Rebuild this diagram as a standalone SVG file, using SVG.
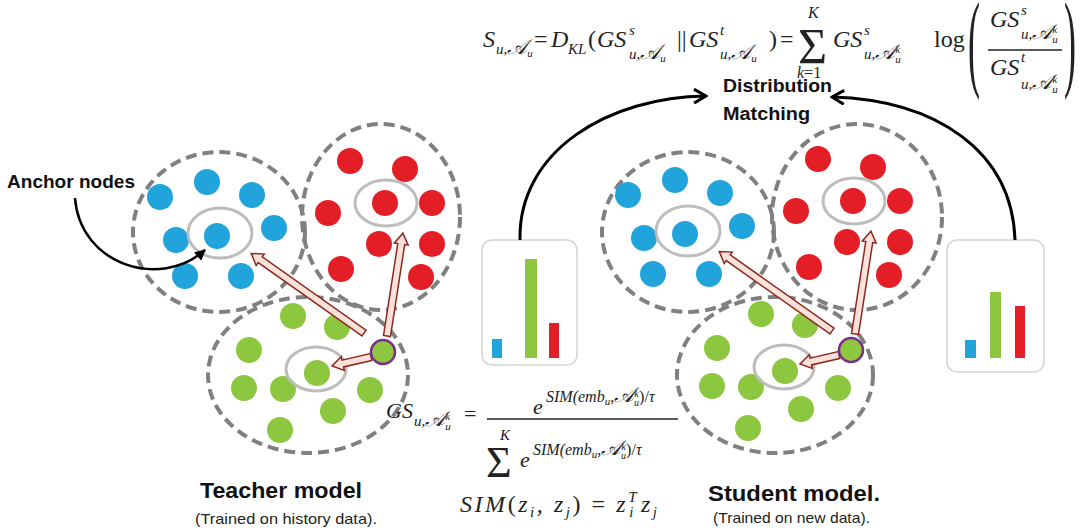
<svg xmlns="http://www.w3.org/2000/svg" width="1080" height="532" viewBox="0 0 1080 532">
<defs>
<style>
.dash{fill:none;stroke:#808080;stroke-width:4;stroke-dasharray:11 6}
.ring{fill:none;stroke:#bdbdbd;stroke-width:3}
.b{fill:#21a3dc}
.r{fill:#e41e26}
.g{fill:#8dc63f}
.pu{fill:#8dc63f;stroke:#7a2d8c;stroke-width:2.5}
.barbox{fill:#fff;stroke:#d4d4d4;stroke-width:1.5}
.lbl{font-family:"Liberation Sans",Arial,sans-serif;font-weight:bold;fill:#111}
.sm{font-family:"Liberation Sans",Arial,sans-serif;fill:#222}
.m{font-family:"Liberation Serif","DejaVu Serif",serif;font-style:italic;fill:#222}
.n{font-style:normal}
.A{font-size:21px}
.curve{fill:none;stroke:#000;stroke-width:3}
.barrow{fill:#fbe1da;stroke:#8a2a1e;stroke-width:1.5;stroke-linejoin:miter}
</style>
<marker id="open" viewBox="0 0 16 16" refX="14" refY="8" markerWidth="16" markerHeight="16" markerUnits="userSpaceOnUse" orient="auto"><path d="M2,1 L14,8 L2,15" fill="none" stroke="#000" stroke-width="3"/></marker>
<marker id="solid" viewBox="0 0 10 10" refX="9" refY="5" markerWidth="11" markerHeight="11" markerUnits="userSpaceOnUse" orient="auto"><path d="M0,0 L10,5 L0,10 z" fill="#000"/></marker>
</defs>
<rect width="1080" height="532" fill="#fff"/>

<!-- Teacher clusters -->
<g id="teacher-blue">
<ellipse class="dash" cx="219" cy="232" rx="86" ry="80"/>
<circle class="b" cx="160" cy="197" r="13"/><circle class="b" cx="207" cy="182" r="13"/><circle class="b" cx="252" cy="195" r="13"/><circle class="b" cx="274" cy="228" r="13"/><circle class="b" cx="176" cy="240" r="13"/><circle class="b" cx="217" cy="236" r="13"/><circle class="b" cx="185" cy="276" r="13"/><circle class="b" cx="241" cy="276" r="13"/>
<ellipse class="ring" cx="220" cy="233" rx="32" ry="25"/>
</g>
<g id="teacher-red">
<ellipse class="dash" cx="381" cy="217" rx="79" ry="93"/>
<circle class="r" cx="350" cy="161" r="13"/><circle class="r" cx="405" cy="169" r="13"/><circle class="r" cx="328" cy="213" r="13"/><circle class="r" cx="385" cy="203" r="13"/><circle class="r" cx="432" cy="203" r="13"/><circle class="r" cx="379" cy="244" r="13"/><circle class="r" cx="432" cy="244" r="13"/><circle class="r" cx="341" cy="269" r="13"/><circle class="r" cx="421" cy="277" r="13"/>
<ellipse class="ring" cx="386" cy="203" rx="31" ry="23"/>
</g>
<g id="teacher-green">
<ellipse class="dash" cx="308" cy="375" rx="100" ry="78"/>
<circle class="g" cx="293" cy="316" r="13"/><circle class="g" cx="337" cy="327" r="13"/><circle class="g" cx="249" cy="350" r="13"/><circle class="g" cx="317" cy="373" r="13"/><circle class="g" cx="244" cy="388" r="13"/><circle class="g" cx="283" cy="389" r="13"/><circle class="g" cx="370" cy="390" r="13"/><circle class="g" cx="333" cy="411" r="13"/><circle class="g" cx="280" cy="430" r="13"/>
<ellipse class="ring" cx="316" cy="369" rx="30" ry="22"/>
</g>

<!-- Student clusters -->
<g id="student-blue">
<ellipse class="dash" cx="688" cy="232" rx="86" ry="80"/>
<g transform="translate(468,-2)">
<circle class="b" cx="160" cy="197" r="13"/><circle class="b" cx="207" cy="182" r="13"/><circle class="b" cx="252" cy="195" r="13"/><circle class="b" cx="274" cy="228" r="13"/><circle class="b" cx="176" cy="240" r="13"/><circle class="b" cx="217" cy="236" r="13"/><circle class="b" cx="185" cy="276" r="13"/><circle class="b" cx="241" cy="276" r="13"/>
<ellipse class="ring" cx="220" cy="233" rx="32" ry="25"/>
</g>
</g>
<g id="student-red">
<ellipse class="dash" cx="857" cy="217" rx="85" ry="93"/>
<g transform="translate(468,-2)">
<circle class="r" cx="350" cy="161" r="13"/><circle class="r" cx="405" cy="169" r="13"/><circle class="r" cx="328" cy="213" r="13"/><circle class="r" cx="385" cy="203" r="13"/><circle class="r" cx="432" cy="203" r="13"/><circle class="r" cx="379" cy="244" r="13"/><circle class="r" cx="432" cy="244" r="13"/><circle class="r" cx="341" cy="269" r="13"/><circle class="r" cx="421" cy="277" r="13"/>
<ellipse class="ring" cx="386" cy="203" rx="31" ry="23"/>
</g>
</g>
<g id="student-green">
<ellipse class="dash" cx="775" cy="375" rx="98" ry="78"/>
<g transform="translate(468,-2)">
<circle class="g" cx="293" cy="316" r="13"/><circle class="g" cx="337" cy="327" r="13"/><circle class="g" cx="249" cy="350" r="13"/><circle class="g" cx="317" cy="373" r="13"/><circle class="g" cx="244" cy="388" r="13"/><circle class="g" cx="283" cy="389" r="13"/><circle class="g" cx="370" cy="390" r="13"/><circle class="g" cx="333" cy="411" r="13"/><circle class="g" cx="280" cy="430" r="13"/>
<ellipse class="ring" cx="316" cy="369" rx="30" ry="22"/>
</g>
</g>

<!-- Bar charts -->
<g id="teacher-bars">
<rect class="barbox" x="482" y="240" width="95" height="125" rx="10"/>
<rect class="b" x="492" y="339" width="10" height="19"/>
<rect class="g" x="525" y="259" width="12" height="99"/>
<rect class="r" x="549" y="323" width="10" height="35"/>
</g>
<g id="student-bars">
<rect class="barbox" x="947" y="240" width="97" height="132" rx="10"/>
<rect class="b" x="965" y="340" width="11" height="18"/>
<rect class="g" x="990" y="292" width="11" height="66"/>
<rect class="r" x="1015" y="306" width="10" height="52"/>
</g>

<!-- Connectors -->
<g id="connectors">
<path class="curve" d="M520,240 C518,150 610,97 706,96" marker-end="url(#open)"/>
<path class="curve" d="M1015,240 C1012,150 935,100 832,97" marker-end="url(#open)"/>
<path fill="none" stroke="#000" stroke-width="2.5" d="M75,198 C80,265 160,290 205,250" marker-end="url(#solid)"/>
<g transform="translate(364,333) rotate(-144.8)"><polygon class="barrow" points="0,-3.5 127,-3.5 127,-7 138,0 127,7 127,3.5 0,3.5"/></g>
<g transform="translate(387,336) rotate(-81.2)"><polygon class="barrow" points="0,-3.5 93,-3.5 93,-7 104,0 93,7 93,3.5 0,3.5"/></g>
<g transform="translate(371,357) rotate(167)"><polygon class="barrow" points="0,-3.5 29,-3.5 29,-7 40,0 29,7 29,3.5 0,3.5"/></g>
<g transform="translate(468,-2)">
<g transform="translate(364,333) rotate(-144.8)"><polygon class="barrow" points="0,-3.5 127,-3.5 127,-7 138,0 127,7 127,3.5 0,3.5"/></g>
<g transform="translate(387,336) rotate(-81.2)"><polygon class="barrow" points="0,-3.5 93,-3.5 93,-7 104,0 93,7 93,3.5 0,3.5"/></g>
<g transform="translate(371,357) rotate(167)"><polygon class="barrow" points="0,-3.5 29,-3.5 29,-7 40,0 29,7 29,3.5 0,3.5"/></g>
</g>
</g>

<g id="teacher-user"><circle class="pu" cx="383" cy="352" r="12"/></g>
<g id="student-user"><circle class="pu" cx="851" cy="350" r="12"/></g>

<!-- Labels -->
<g id="label-anchor"><text class="lbl" x="7" y="188" font-size="18" textLength="128" lengthAdjust="spacingAndGlyphs">Anchor nodes</text></g>
<g id="label-dm">
<text class="lbl" x="723" y="92" font-size="18" textLength="109" lengthAdjust="spacingAndGlyphs">Distribution</text>
<text class="lbl" x="723" y="120" font-size="18" textLength="87" lengthAdjust="spacingAndGlyphs">Matching</text>
</g>
<g id="label-teacher">
<text class="lbl" x="200" y="498" font-size="22" textLength="162" lengthAdjust="spacingAndGlyphs">Teacher model</text>
<text class="sm" x="195" y="524" font-size="15" textLength="182" lengthAdjust="spacingAndGlyphs">(Trained on history data).</text>
</g>
<g id="label-student">
<text class="lbl" x="708" y="501" font-size="22" textLength="172" lengthAdjust="spacingAndGlyphs">Student model.</text>
<text class="sm" x="713" y="523" font-size="15" textLength="157" lengthAdjust="spacingAndGlyphs">(Trained on new data).</text>
</g>

<!-- Top formula -->
<g id="formula-kl" class="m">
<text x="483" y="47" font-size="24">S</text>
<text x="496" y="54" font-size="15">u,<tspan class="A">𝒜</tspan><tspan dy="3" font-size="11">u</tspan></text>
<text x="534" y="47" font-size="24" class="n">=</text>
<text x="551" y="47" font-size="24">D</text>
<text x="568" y="54" font-size="15">KL</text>
<text x="588" y="47" font-size="24" class="n">(</text>
<text x="597" y="47" font-size="24">GS</text>
<text x="629" y="35" font-size="15">s</text>
<text x="629" y="59" font-size="15">u,<tspan class="A">𝒜</tspan><tspan dy="3" font-size="11">u</tspan></text>
<text x="677" y="47" font-size="24" class="n">||</text>
<text x="689" y="47" font-size="24">GS</text>
<text x="720" y="35" font-size="15">t</text>
<text x="720" y="59" font-size="15">u,<tspan class="A">𝒜</tspan><tspan dy="3" font-size="11">u</tspan></text>
<text x="769" y="47" font-size="24" class="n">)</text>
<text x="780" y="47" font-size="24" class="n">=</text>
<text x="798" y="63" font-size="50" class="n">Σ</text>
<text x="808" y="18" font-size="16">K</text>
<text x="797" y="78" font-size="16">k<tspan class="n">=1</tspan></text>
<text x="833" y="47" font-size="24">GS</text>
<text x="864" y="35" font-size="15">s</text>
<text x="864" y="59" font-size="15">u,<tspan class="A">𝒜</tspan><tspan dy="-6" font-size="11">k</tspan><tspan dx="-5" dy="10" font-size="11">u</tspan></text>
<text x="934" y="47" font-size="24" class="n">log</text>
<text transform="translate(968,0) scale(1,3)" x="0" y="25.5" font-size="36" class="n">(</text>
<text x="990" y="27" font-size="24">GS</text>
<text x="1021" y="15" font-size="15">s</text>
<text x="1021" y="39" font-size="15">u,<tspan class="A">𝒜</tspan><tspan dy="-6" font-size="11">k</tspan><tspan dx="-5" dy="10" font-size="11">u</tspan></text>
<line x1="988" y1="50" x2="1062" y2="50" stroke="#222" stroke-width="1.3"/>
<text x="990" y="75" font-size="24">GS</text>
<text x="1021" y="62" font-size="15">t</text>
<text x="1021" y="89" font-size="15">u,<tspan class="A">𝒜</tspan><tspan dy="-6" font-size="11">k</tspan><tspan dx="-5" dy="10" font-size="11">u</tspan></text>
<text transform="translate(1064,0) scale(1,3)" x="0" y="25.5" font-size="36" class="n">)</text>
</g>

<!-- Bottom formula -->
<g id="formula-gs" class="m">
<text x="386" y="418" font-size="22">GS</text>
<text x="414" y="426" font-size="15">u,<tspan class="A">𝒜</tspan><tspan dy="-6" font-size="11">k</tspan><tspan dx="-5" dy="10" font-size="11">u</tspan></text>
<text x="464" y="421" font-size="22" class="n">=</text>
<text x="533" y="414" font-size="22">e</text>
<text x="546" y="402" font-size="16">SIM(emb<tspan dy="3" font-size="11">u</tspan><tspan dy="-3">,</tspan><tspan class="A">𝒜</tspan><tspan dy="-5" font-size="10">k</tspan><tspan dx="-4.5" dy="9" font-size="10">u</tspan><tspan dy="-4" class="n">)/</tspan>τ</text>
<line x1="487" y1="419" x2="678" y2="419" stroke="#222" stroke-width="1.3"/>
<text x="486" y="477" font-size="44" class="n">Σ</text>
<text x="500" y="440" font-size="15">K</text>
<text x="520" y="467" font-size="22">e</text>
<text x="533" y="455" font-size="16">SIM(emb<tspan dy="3" font-size="11">u</tspan><tspan dy="-3">,</tspan><tspan class="A">𝒜</tspan><tspan dy="-5" font-size="10">k</tspan><tspan dx="-4.5" dy="9" font-size="10">u</tspan><tspan dy="-4" class="n">)/</tspan>τ</text>
<text x="460" y="512" font-size="24" textLength="197" lengthAdjust="spacing">SIM<tspan class="n">(</tspan>z<tspan dy="5" font-size="15">i</tspan><tspan dy="-5">, z</tspan><tspan dy="5" font-size="15">j</tspan><tspan dy="-5" class="n">) = </tspan>z<tspan dy="-10" font-size="15">T</tspan><tspan dx="-9" dy="15" font-size="15">i</tspan><tspan dx="5" dy="-5">z</tspan><tspan dy="5" font-size="15">j</tspan></text>
</g>
</svg>
